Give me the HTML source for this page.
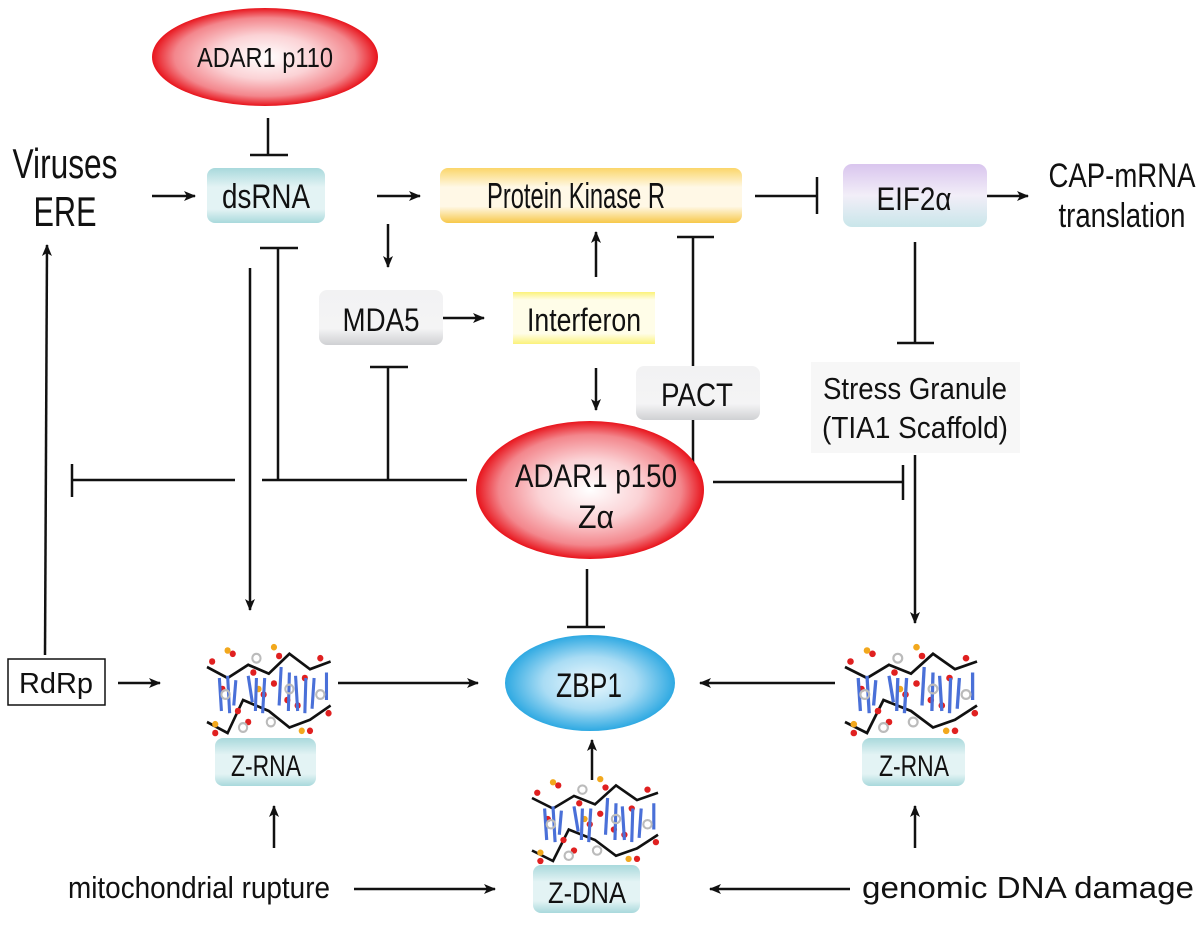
<!DOCTYPE html>
<html><head><meta charset="utf-8"><style>
html,body{margin:0;padding:0;background:#fff;}
svg text{font-family:"Liberation Sans Narrow","Liberation Sans",sans-serif;fill:#111;}
</style></head><body>
<svg width="1200" height="920" viewBox="0 0 1200 920" xmlns="http://www.w3.org/2000/svg">
<defs>
<radialGradient id="red" cx="50%" cy="50%" r="50%"><stop offset="0" stop-color="#fff"/><stop offset="0.45" stop-color="#fbd2d5"/><stop offset="0.8" stop-color="#f3868c"/><stop offset="1" stop-color="#e8141c"/></radialGradient>
<radialGradient id="blue" cx="50%" cy="50%" r="50%"><stop offset="0" stop-color="#eef9fe"/><stop offset="0.55" stop-color="#a9dcf4"/><stop offset="1" stop-color="#2ea9e2"/></radialGradient>
<linearGradient id="teal" x1="0" y1="0" x2="0" y2="1"><stop offset="0" stop-color="#a9d9dc"/><stop offset="0.35" stop-color="#e3f3f4"/><stop offset="0.75" stop-color="#e3f3f4"/><stop offset="1" stop-color="#a9d9dc"/></linearGradient>
<linearGradient id="yel" x1="0" y1="0" x2="0" y2="1"><stop offset="0" stop-color="#fbd66a"/><stop offset="0.35" stop-color="#fff8e6"/><stop offset="0.7" stop-color="#fff8e6"/><stop offset="1" stop-color="#f7c84a"/></linearGradient>
<linearGradient id="ifn" x1="0" y1="0" x2="0" y2="1"><stop offset="0" stop-color="#fbf27a"/><stop offset="0.15" stop-color="#fffde8"/><stop offset="0.8" stop-color="#fffde8"/><stop offset="1" stop-color="#fbf27a"/></linearGradient>
<linearGradient id="gray" x1="0" y1="0" x2="0" y2="1"><stop offset="0" stop-color="#f2f2f3"/><stop offset="0.7" stop-color="#f4f4f5"/><stop offset="1" stop-color="#cfd0d3"/></linearGradient>
<linearGradient id="eif" x1="0" y1="0" x2="0" y2="1"><stop offset="0" stop-color="#d9c5ee"/><stop offset="0.5" stop-color="#f2eef8"/><stop offset="1" stop-color="#c9e6ea"/></linearGradient>
<marker id="ar" viewBox="0 0 12 10" refX="11" refY="5" markerWidth="12" markerHeight="10" markerUnits="userSpaceOnUse" orient="auto"><path d="M0,0 L12,5 L0,10 L3,5 Z" fill="#111"/></marker>
<g id="mol">
<polyline points="0,20 20,30 40,18 60,26 80,8 100,22 120,15" fill="none" stroke="#111" stroke-width="2.5"/>
<polyline points="0,70 20,80 35,50 60,60 80,75 100,68 120,55" fill="none" stroke="#111" stroke-width="2.5"/>
<g fill="#e02020"><circle cx="5" cy="15" r="3"/><circle cx="25" cy="8" r="3"/><circle cx="45" cy="25" r="3"/><circle cx="70" cy="10" r="3"/><circle cx="95" cy="30" r="3"/><circle cx="110" cy="12" r="3"/><circle cx="8" cy="80" r="3"/><circle cx="30" cy="60" r="3"/><circle cx="55" cy="45" r="3"/><circle cx="78" cy="50" r="3"/><circle cx="100" cy="78" r="3"/><circle cx="118" cy="62" r="3"/><circle cx="65" cy="35" r="3"/><circle cx="15" cy="40" r="3"/><circle cx="88" cy="55" r="3"/><circle cx="40" cy="70" r="3"/></g>
<g fill="#f2a81d"><circle cx="20" cy="5" r="3"/><circle cx="65" cy="2" r="3"/><circle cx="50" cy="40" r="3"/><circle cx="8" cy="72" r="3"/><circle cx="92" cy="78" r="3"/></g>
<g stroke="#4a70d8" stroke-width="3"><line x1="12" y1="30" x2="14" y2="60"/><line x1="20" y1="28" x2="22" y2="62"/><line x1="28" y1="32" x2="26" y2="55"/><line x1="40" y1="28" x2="44" y2="52"/><line x1="48" y1="30" x2="47" y2="60"/><line x1="56" y1="30" x2="54" y2="62"/><line x1="72" y1="20" x2="70" y2="55"/><line x1="80" y1="25" x2="79" y2="60"/><line x1="86" y1="28" x2="88" y2="60"/><line x1="96" y1="30" x2="95" y2="62"/><line x1="104" y1="30" x2="102" y2="58"/><line x1="116" y1="25" x2="116" y2="50"/></g>
<g stroke="#bbb" stroke-width="2" fill="none"><circle cx="18" cy="45" r="4"/><circle cx="48" cy="12" r="4"/><circle cx="80" cy="40" r="4"/><circle cx="110" cy="45" r="4"/><circle cx="35" cy="75" r="4"/><circle cx="62" cy="70" r="4"/></g>
</g>
</defs>

<g stroke="#111" stroke-width="2.5" fill="none">
<line x1="268" y1="118" x2="268" y2="155"/><line x1="250" y1="155" x2="288" y2="155"/>
<line x1="152" y1="196" x2="195" y2="196" marker-end="url(#ar)"/>
<line x1="377" y1="196" x2="420" y2="196" marker-end="url(#ar)"/>
<line x1="755" y1="196" x2="817" y2="196"/><line x1="817" y1="177" x2="817" y2="214"/>
<line x1="987" y1="196" x2="1028" y2="196" marker-end="url(#ar)"/>
<line x1="388" y1="224" x2="388" y2="267" marker-end="url(#ar)"/>
<line x1="443" y1="318" x2="484" y2="318" marker-end="url(#ar)"/>
<line x1="596" y1="277" x2="596" y2="232" marker-end="url(#ar)"/>
<line x1="596" y1="368" x2="596" y2="410" marker-end="url(#ar)"/>
<line x1="693" y1="470" x2="693" y2="237"/><line x1="677" y1="237" x2="714" y2="237"/>
<line x1="915" y1="242" x2="915" y2="343"/><line x1="897" y1="343" x2="934" y2="343"/>
<line x1="278" y1="480" x2="278" y2="248"/><line x1="260" y1="248" x2="298" y2="248"/>
<line x1="388" y1="480" x2="388" y2="367"/><line x1="370" y1="367" x2="408" y2="367"/>
<line x1="262" y1="480" x2="467" y2="480"/>
<line x1="235" y1="480" x2="72" y2="480"/><line x1="72" y1="464" x2="72" y2="497"/>
<line x1="250" y1="268" x2="250" y2="610" marker-end="url(#ar)"/>
<line x1="713" y1="482" x2="903" y2="482"/><line x1="903" y1="465" x2="903" y2="500"/>
<line x1="915" y1="455" x2="915" y2="623" marker-end="url(#ar)"/>
<line x1="587" y1="569" x2="587" y2="627"/><line x1="567" y1="627" x2="605" y2="627"/>
<line x1="45" y1="655" x2="47" y2="245" marker-end="url(#ar)"/>
<line x1="118" y1="683" x2="160" y2="683" marker-end="url(#ar)"/>
<line x1="338" y1="683" x2="478" y2="683" marker-end="url(#ar)"/>
<line x1="835" y1="683" x2="700" y2="683" marker-end="url(#ar)"/>
<line x1="592" y1="780" x2="592" y2="740" marker-end="url(#ar)"/>
<line x1="274" y1="848" x2="274" y2="806" marker-end="url(#ar)"/>
<line x1="915" y1="848" x2="915" y2="806" marker-end="url(#ar)"/>
<line x1="354" y1="889" x2="495" y2="889" marker-end="url(#ar)"/>
<line x1="850" y1="889" x2="710" y2="889" marker-end="url(#ar)"/>
</g>

<ellipse cx="265" cy="57" rx="113" ry="49" fill="url(#red)"/>
<text x="265" y="67" font-size="28" text-anchor="middle" textLength="136" lengthAdjust="spacingAndGlyphs">ADAR1 p110</text>

<text x="65" y="178" font-size="42" text-anchor="middle" textLength="105" lengthAdjust="spacingAndGlyphs">Viruses</text>
<text x="65" y="226" font-size="42" text-anchor="middle" textLength="63" lengthAdjust="spacingAndGlyphs">ERE</text>

<rect x="207" y="168" width="118" height="55" rx="8" fill="url(#teal)"/>
<text x="266" y="208" font-size="34" text-anchor="middle" textLength="88" lengthAdjust="spacingAndGlyphs">dsRNA</text>
<rect x="440" y="168" width="302" height="55" rx="8" fill="url(#yel)"/>
<text x="576" y="208" font-size="36" text-anchor="middle" textLength="178" lengthAdjust="spacingAndGlyphs">Protein Kinase R</text>
<rect x="843" y="164" width="144" height="63" rx="9" fill="url(#eif)"/>
<text x="914" y="210" font-size="32" text-anchor="middle" textLength="75" lengthAdjust="spacingAndGlyphs">EIF2α</text>
<text x="1122" y="187" font-size="34" text-anchor="middle" textLength="147" lengthAdjust="spacingAndGlyphs">CAP-mRNA</text>
<text x="1122" y="227" font-size="34" text-anchor="middle" textLength="127" lengthAdjust="spacingAndGlyphs">translation</text>

<rect x="319" y="290" width="124" height="55" rx="8" fill="url(#gray)"/>
<text x="381" y="331" font-size="32" text-anchor="middle" textLength="77" lengthAdjust="spacingAndGlyphs">MDA5</text>
<rect x="513" y="292" width="142" height="52" fill="url(#ifn)"/>
<text x="584" y="331" font-size="32" text-anchor="middle" textLength="114" lengthAdjust="spacingAndGlyphs">Interferon</text>
<rect x="636" y="366" width="124" height="54" rx="8" fill="url(#gray)"/>
<text x="697" y="406" font-size="32" text-anchor="middle" textLength="72" lengthAdjust="spacingAndGlyphs">PACT</text>
<rect x="811" y="362" width="209" height="91" fill="#f7f7f7"/>
<text x="915" y="399" font-size="31" text-anchor="middle" textLength="184" lengthAdjust="spacingAndGlyphs">Stress Granule</text>
<text x="915" y="438" font-size="31" text-anchor="middle" textLength="186" lengthAdjust="spacingAndGlyphs">(TIA1 Scaffold)</text>

<ellipse cx="590" cy="490" rx="114" ry="69" fill="url(#red)"/>
<text x="596" y="487" font-size="32" text-anchor="middle" textLength="162" lengthAdjust="spacingAndGlyphs">ADAR1 p150</text>
<text x="596" y="528" font-size="32" text-anchor="middle" textLength="36" lengthAdjust="spacingAndGlyphs">Zα</text>

<ellipse cx="590" cy="683" rx="85" ry="48" fill="url(#blue)"/>
<text x="589" y="697" font-size="34" text-anchor="middle" textLength="66" lengthAdjust="spacingAndGlyphs">ZBP1</text>

<rect x="8" y="659" width="97" height="46" fill="#fff" stroke="#111" stroke-width="1.5"/>
<text x="56" y="693" font-size="29" text-anchor="middle" textLength="74" lengthAdjust="spacingAndGlyphs">RdRp</text>

<use href="#mol" transform="translate(207,645) scale(1.03,1.1)"/>
<use href="#mol" transform="translate(845,645) scale(1.1,1.1)"/>
<use href="#mol" transform="translate(532,777) scale(1.05,1.05)"/>

<rect x="215" y="738" width="101" height="48" rx="8" fill="url(#teal)"/>
<text x="266" y="776" font-size="30" text-anchor="middle" textLength="70" lengthAdjust="spacingAndGlyphs">Z-RNA</text>
<rect x="862" y="738" width="103" height="48" rx="8" fill="url(#teal)"/>
<text x="914" y="776" font-size="30" text-anchor="middle" textLength="70" lengthAdjust="spacingAndGlyphs">Z-RNA</text>
<rect x="533" y="865" width="107" height="48" rx="8" fill="url(#teal)"/>
<text x="587" y="903" font-size="30" text-anchor="middle" textLength="78" lengthAdjust="spacingAndGlyphs">Z-DNA</text>

<text x="199" y="898" font-size="31" text-anchor="middle" textLength="262" lengthAdjust="spacingAndGlyphs">mitochondrial rupture</text>
<text x="1028" y="898" font-size="31" text-anchor="middle" textLength="332" lengthAdjust="spacingAndGlyphs">genomic DNA damage</text>
</svg>
</body></html>
